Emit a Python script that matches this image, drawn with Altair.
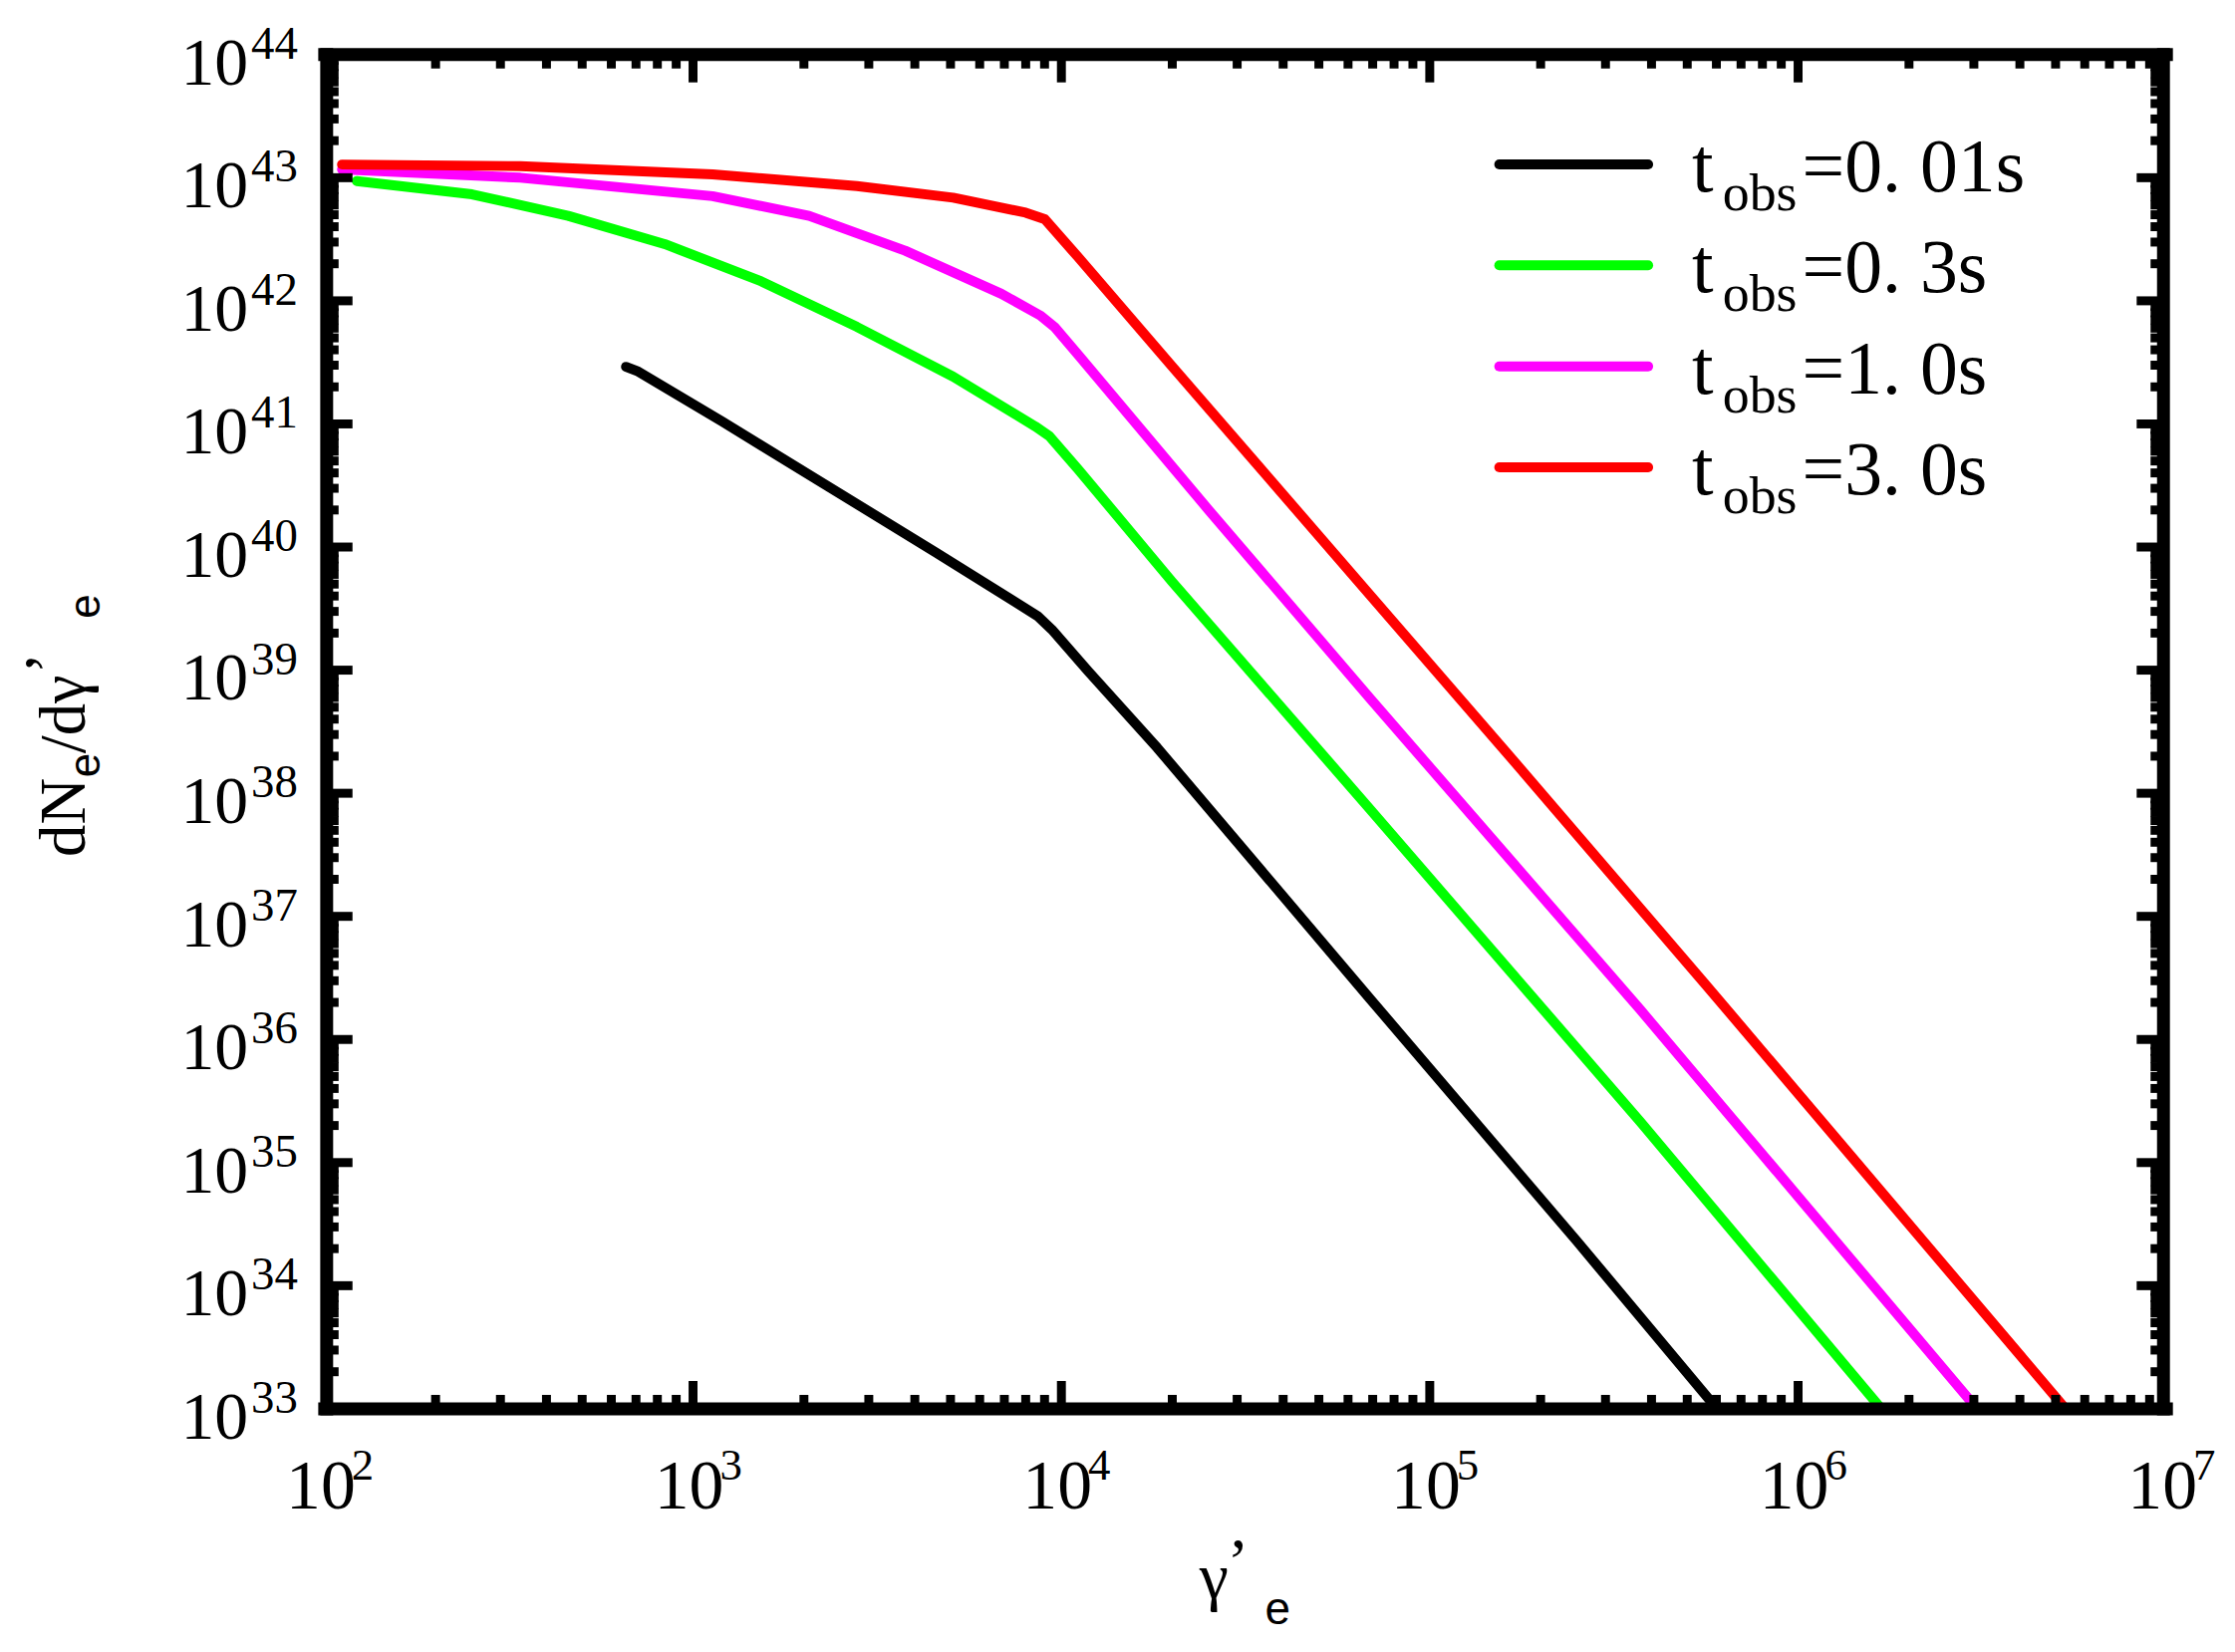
import altair as alt
import pandas as pd

# ---------------- data (log10 of gamma'_e and of dN/dgamma') ----------------
series_labels = ["0. 01s", "0. 3s", "1. 0s", "3. 0s"]
series_colors = ["#000000", "#00ff00", "#ff00ff", "#ff0000"]

lg_gamma_001 = [2.818, 2.848, 3.079, 3.368, 3.657, 3.935, 3.974, 4.073, 4.26, 4.838, 5.40, 5.78]
lg_N_001 = [41.464, 41.43, 41.02, 40.49, 39.96, 39.44, 39.33, 38.99, 38.37, 36.33, 34.36, 33.0]

lg_gamma_03 = [2.087, 2.40, 2.661, 2.923, 3.184, 3.445, 3.706, 3.929, 3.968, 4.046, 4.30,
               4.838, 5.572, 6.226]
lg_N_03 = [42.973, 42.865, 42.69, 42.461, 42.16, 41.788, 41.384, 40.98, 40.899, 40.63,
           39.72, 37.87, 35.33, 33.0]

lg_gamma_10 = [2.047, 2.531, 3.053, 3.315, 3.576, 3.837, 3.942, 3.981, 4.046, 4.40, 4.838,
               5.572, 6.486]
lg_N_10 = [43.067, 43.0, 42.85, 42.69, 42.407, 42.057, 41.882, 41.788, 41.56, 40.30,
           38.77, 36.24, 33.0]

lg_gamma_30 = [2.047, 2.531, 3.053, 3.445, 3.706, 3.903, 3.955, 4.046, 4.30, 4.838, 5.20,
               5.745, 6.726]
lg_N_30 = [43.107, 43.094, 43.027, 42.932, 42.838, 42.716, 42.663, 42.353, 41.47, 39.61,
           38.36, 36.46, 33.0]

x_major_exp = [2, 3, 4, 5, 6, 7]
y_major_exp = list(range(33, 45))

# ---------------- layout constants ----------------
W, H = 1855, 1364
SERIF = "Liberation Serif"
SANS = "Liberation Sans"

xs = alt.Scale(type="log", domain=[1e2, 1e7])
ys = alt.Scale(type="log", domain=[1e33, 1e44])

rows = []
for lab, gs, ns in zip(series_labels,
                       [lg_gamma_001, lg_gamma_03, lg_gamma_10, lg_gamma_30],
                       [lg_N_001, lg_N_03, lg_N_10, lg_N_30]):
    for i, (g, n) in enumerate(zip(gs, ns)):
        rows.append({"s": lab, "g": 10.0 ** g, "n": 10.0 ** n, "i": i})
df = pd.DataFrame(rows)

lines = alt.Chart(df).mark_line(strokeWidth=10, strokeCap="round", strokeJoin="round",
                                clip=True).encode(
    x=alt.X("g:Q", scale=xs, axis=None),
    y=alt.Y("n:Q", scale=ys, axis=None),
    color=alt.Color("s:N", scale=alt.Scale(domain=series_labels, range=series_colors),
                    legend=None),
    order=alt.Order("i:Q"),
)

# ---------------- ticks ----------------
x_major = [10.0 ** n for n in range(3, 7)]
x_minor = [k * 10.0 ** n for n in range(2, 7) for k in range(2, 10)]
y_major = [10.0 ** n for n in range(34, 44)]
y_minor = [k * 10.0 ** n for n in range(33, 44) for k in range(2, 10)]

MAJ, MIN = 28, 14
tick_layers = []
for vals, L in [(x_major, MAJ), (x_minor, MIN)]:
    d = pd.DataFrame({"v": vals})
    b = alt.Chart(d).mark_rule(strokeWidth=9, color="black")
    tick_layers.append(b.encode(x=alt.X("v:Q", scale=xs, axis=None),
                                y=alt.value(H), y2=alt.value(H - L)))
    tick_layers.append(b.encode(x=alt.X("v:Q", scale=xs, axis=None),
                                y=alt.value(0), y2=alt.value(L)))
for vals, L in [(y_major, MAJ), (y_minor, MIN)]:
    d = pd.DataFrame({"v": vals})
    b = alt.Chart(d).mark_rule(strokeWidth=9, color="black")
    tick_layers.append(b.encode(y=alt.Y("v:Q", scale=ys, axis=None),
                                x=alt.value(0), x2=alt.value(L)))
    tick_layers.append(b.encode(y=alt.Y("v:Q", scale=ys, axis=None),
                                x=alt.value(W), x2=alt.value(W - L - 2)))

# ---------------- frame ----------------
one = pd.DataFrame({"a": [0]})
fr = alt.Chart(one).mark_rule(strokeWidth=13, color="black", strokeCap="square")
frame = [
    fr.encode(x=alt.value(0), x2=alt.value(W), y=alt.value(0)),
    fr.encode(x=alt.value(0), x2=alt.value(W), y=alt.value(H)),
    fr.encode(y=alt.value(0), y2=alt.value(H), x=alt.value(2)),
    fr.encode(y=alt.value(0), y2=alt.value(H), x=alt.value(W - 3)),
]

# ---------------- tick labels ----------------
ydf = pd.DataFrame({"v": [10.0 ** e for e in y_major_exp],
                    "e": [str(e) for e in y_major_exp]})
ylab10 = alt.Chart(ydf).mark_text(font=SERIF, fontSize=68, align="right",
                                  baseline="alphabetic", dy=30, text="10",
                                  color="black").encode(
    y=alt.Y("v:Q", scale=ys, axis=None), x=alt.value(-77))
ylabexp = alt.Chart(ydf).mark_text(font=SERIF, fontSize=47, align="left",
                                   baseline="alphabetic", dy=4,
                                   color="black").encode(
    y=alt.Y("v:Q", scale=ys, axis=None), x=alt.value(-74), text="e:N")

xdf = pd.DataFrame({"v": [10.0 ** e for e in x_major_exp],
                    "e": [str(e) for e in x_major_exp]})
xlab10 = alt.Chart(xdf).mark_text(font=SERIF, fontSize=70, align="right",
                                  baseline="alphabetic", dx=31, text="10",
                                  color="black").encode(
    x=alt.X("v:Q", scale=xs, axis=None), y=alt.value(H + 100))
xlabexp = alt.Chart(xdf).mark_text(font=SERIF, fontSize=45, align="left",
                                   baseline="alphabetic", dx=27,
                                   color="black").encode(
    x=alt.X("v:Q", scale=xs, axis=None), y=alt.value(H + 71), text="e:N")


def txt(s, x, y, size, font=SERIF, angle=0, align="left"):
    return alt.Chart(pd.DataFrame({"t": [s]})).mark_text(
        font=font, fontSize=size, align=align, baseline="alphabetic",
        angle=angle, color="black").encode(
        x=alt.value(x), y=alt.value(y), text="t:N")


# ---------------- axis titles ----------------
xtitle = [
    txt("\u03b3", 881, 1555, 66),
    txt("\u2019", 909, 1540, 66),
    txt("e", 947, 1581, 46, font=SANS),
]
ytitle = [
    txt("dN", -242, 808, 65, angle=270),
    txt("e", -227, 728, 44, font=SANS, angle=270),
    txt("/d\u03b3", -242, 704, 65, angle=270),
    txt("\u2019", -258, 624, 65, angle=270),
    txt("e", -227, 568, 44, font=SANS, angle=270),
]

# ---------------- legend ----------------
legend = []
for i, (lab, col) in enumerate(zip(series_labels, series_colors)):
    yc = 110.6 + 101.7 * i
    legend.append(alt.Chart(one).mark_rule(strokeWidth=10, strokeCap="round",
                                           color=col).encode(
        x=alt.value(1183), x2=alt.value(1333), y=alt.value(yc)))
    legend.append(txt("t", 1377, yc + 27, 78))
    legend.append(txt("obs", 1408, yc + 46, 54))
    legend.append(txt("=" + lab, 1488, yc + 27, 76))

chart = alt.layer(
    lines, *tick_layers, *frame, ylab10, ylabexp, xlab10, xlabexp,
    *xtitle, *ytitle, *legend
).properties(
    width=W, height=H,
    autosize=alt.AutoSizeParams(type="none"),
    padding={"left": 319, "top": 44, "right": 61, "bottom": 242},
).configure_view(stroke=None)

chart.save("out.html", embed_options={"renderer": "svg", "actions": False})
